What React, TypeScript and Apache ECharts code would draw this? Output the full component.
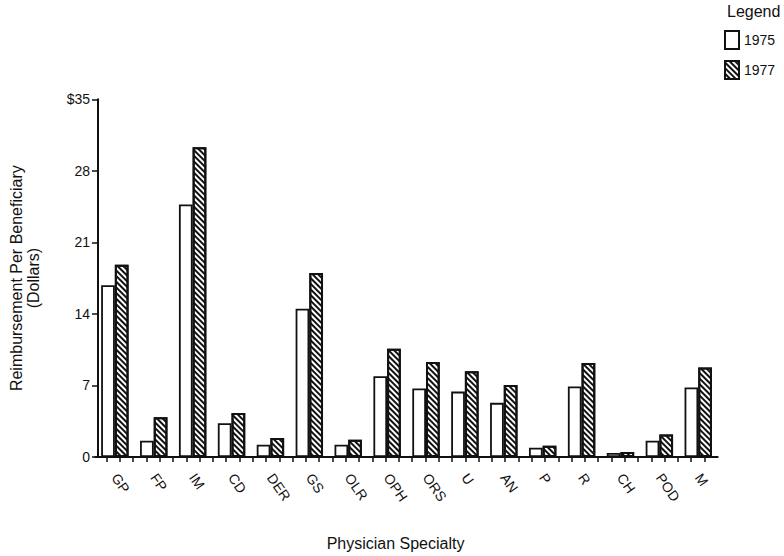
import React, { useEffect, useRef } from "react";
import * as echarts from "echarts";

const categories = ["GP", "FP", "IM", "CD", "DER", "GS", "OLR", "OPH", "ORS", "U", "AN", "P", "R", "CH", "POD", "M"];
const values1975 = [16.8, 1.6, 24.7, 3.3, 1.2, 14.5, 1.2, 7.9, 6.7, 6.4, 5.3, 0.9, 6.9, 0.4, 1.6, 6.8];
const values1977 = [18.8, 3.9, 30.3, 4.3, 1.85, 18.0, 1.7, 10.6, 9.3, 8.4, 7.05, 1.1, 9.2, 0.5, 2.2, 8.75];
const seriesNames = ["1975", "1977"];
const yTickLabels: Record<number, string> = { 0: "0", 7: "7", 14: "14", 21: "21", 28: "28", 35: "$35" };
// hand-drawn small tick marks along the bottom axis, in category units (47 marks, ~1/3 category apart)
const minorTickStart = -0.211;
const minorTickStep = 0.3416;
const minorTickCount = 47;

const FONT = "'Liberation Sans', Arial, Helvetica, sans-serif";
const INK = "#111";

export default function App() {
  const ref = useRef<HTMLDivElement>(null);
  useEffect(() => {
    if (!ref.current) return;
    const chart = echarts.init(ref.current, null, { renderer: "svg" });
    const categoryIndices = categories.map((_, i) => i);
    const minorTicks = Array.from({ length: minorTickCount }, (_, k) => minorTickStart + minorTickStep * k);
    const hatch = {
      symbol: "rect",
      symbolSize: 1,
      dashArrayX: [1, 0],
      dashArrayY: [1.2, 1.9],
      rotation: Math.PI / 4,
      color: INK,
    };
    chart.setOption({
      animation: false,
      backgroundColor: "#fff",
      textStyle: { fontFamily: FONT, color: INK },
      title: {
        text: "Legend",
        left: 727,
        top: 3,
        padding: 0,
        textStyle: { fontFamily: FONT, fontSize: 16, fontWeight: "normal", color: INK },
      },
      legend: {
        data: seriesNames,
        orient: "vertical",
        left: 724,
        top: 30,
        padding: 0,
        itemWidth: 14,
        itemHeight: 18,
        itemGap: 10,
        icon: "rect",
        textStyle: { fontFamily: FONT, fontSize: 14, color: INK },
      },
      grid: { left: 91.4, right: 66.3, top: 99.3, bottom: 96.7, containLabel: false },
      xAxis: {
        type: "value",
        min: -0.5,
        max: categories.length - 0.5,
        name: "Physician Specialty",
        nameLocation: "middle",
        nameGap: 78,
        nameTextStyle: { fontFamily: FONT, fontSize: 16, color: INK, padding: [0, 22, 0, 0] },
        axisLine: { show: true, onZero: false, lineStyle: { color: INK, width: 2 } },
        axisTick: { show: true, length: 5, customValues: minorTicks, lineStyle: { color: INK, width: 1.5 } },
        axisLabel: {
          customValues: categoryIndices,
          formatter: (v: number) => categories[Math.round(v)] ?? "",
          rotate: -55,
          margin: 18,
          fontFamily: FONT,
          fontSize: 14,
          color: INK,
        },
        splitLine: { show: false },
      },
      yAxis: {
        type: "value",
        min: 0,
        max: 35,
        interval: 7,
        offset: -2.6,
        name: "Reimbursement Per Beneficiary\n(Dollars)",
        nameLocation: "middle",
        nameGap: 56,
        nameTextStyle: { fontFamily: FONT, fontSize: 16, color: INK, lineHeight: 17 },
        axisLine: { show: true, onZero: false, lineStyle: { color: INK, width: 2 } },
        axisTick: { show: true, length: 6, lineStyle: { color: INK, width: 1.5 } },
        axisLabel: {
          margin: 8,
          fontFamily: FONT,
          fontSize: 14,
          color: INK,
          formatter: (v: number) => yTickLabels[v] ?? String(v),
        },
        splitLine: { show: false },
      },
      series: [
        {
          name: seriesNames[0],
          type: "bar",
          data: values1975.map((v, i) => [i, v]),
          barWidth: 13.7,
          barGap: "0%",
          itemStyle: { color: "#fff", borderColor: INK, borderWidth: 1.8 },
        },
        {
          name: seriesNames[1],
          type: "bar",
          data: values1977.map((v, i) => [i, v]),
          barWidth: 13.7,
          barGap: "0%",
          itemStyle: { color: "#fff", borderColor: INK, borderWidth: 2, decal: hatch },
        },
      ],
    });
    return () => chart.dispose();
  }, []);
  return <div ref={ref} style={{ position: "fixed", left: 0, top: 0, width: 784, height: 556 }} />;
}
